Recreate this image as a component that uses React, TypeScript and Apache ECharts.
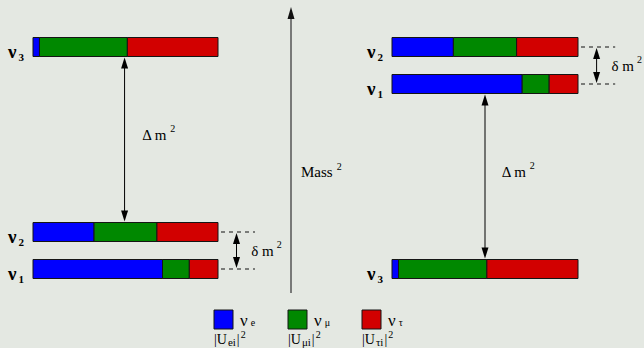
import React, { useEffect, useRef } from 'react';
import * as echarts from 'echarts';

// Flavour content of each mass eigenstate
const flavorNames = ['e', 'μ', 'τ'];
const mixingNames = ['ei', 'μi', 'τi'];
const flavorColors = ['#0000ff', '#008800', '#d20000'];

const stateNames = ['1', '2', '3'];
// |U_ei|², |U_μi|², |U_τi|² for ν1, ν2, ν3
const shareE = [0.7, 0.33, 0.035];
const shareMu = [0.145, 0.34, 0.475];
const shareTau = [0.155, 0.33, 0.49];

// mass² of ν1, ν2, ν3 (arbitrary units)
const normalMass = [0, 1, 6];
const invertedMass = [5, 6, 0];

const FAMILY = 'Liberation Serif';
const BAR_H = 19;
const INK = '#000';

type Part = { text: string; size: number; dy?: number; bold?: boolean; gap?: number };

let ctx2d: CanvasRenderingContext2D | null = null;
function measure(text: string, size: number, bold?: boolean) {
  if (!ctx2d) ctx2d = document.createElement('canvas').getContext('2d');
  if (!ctx2d) return text.length * size * 0.5;
  ctx2d.font = `${bold ? 'bold ' : ''}${size}px "${FAMILY}"`;
  return ctx2d.measureText(text).width;
}

// lays out a small formula (main text with sub/superscripts) as plain text pieces
function formula(x: number, cy: number, parts: Part[], alignRight = false) {
  const widths = parts.map((p) => measure(p.text, p.size, p.bold));
  const total = widths.reduce((s, w, i) => s + w + (parts[i].gap || 0), 0);
  let cx = alignRight ? x - total : x;
  return parts.map((p, i) => {
    cx += p.gap || 0;
    const el = {
      type: 'text',
      x: cx,
      y: cy + (p.dy || 0) - p.size / 2,
      style: {
        text: p.text,
        fontFamily: FAMILY,
        fontSize: p.size,
        fontWeight: p.bold ? 'bold' : 'normal',
        fill: INK,
      },
    };
    cx += widths[i];
    return el;
  });
}

function buildSegments(masses: number[]) {
  const shares = [shareE, shareMu, shareTau];
  const rows: number[][] = [];
  stateNames.forEach((_, s) => {
    let start = 0;
    shares.forEach((arr, fl) => {
      rows.push([start, start + arr[s], masses[s], fl, s]);
      start += arr[s];
    });
  });
  return rows;
}

function renderBar(_params: any, api: any) {
  const x0 = api.value(0);
  const x1 = api.value(1);
  const m = api.value(2);
  const fl = api.value(3);
  const s = api.value(4);
  const a = api.coord([x0, m]);
  const b = api.coord([x1, m]);
  const children: any[] = [
    {
      type: 'rect',
      shape: { x: a[0], y: a[1] - BAR_H / 2, width: b[0] - a[0], height: BAR_H },
      style: { fill: flavorColors[fl], stroke: '#151515', lineWidth: 1 },
    },
  ];
  if (fl === 0) {
    children.push(
      ...formula(
        a[0] - 9,
        a[1] + 4,
        [
          { text: 'ν', size: 19, bold: true },
          { text: stateNames[s], size: 11, bold: true, dy: 6, gap: 2 },
        ],
        true
      )
    );
  }
  return { type: 'group', children };
}

function arrowHead(x: number, y: number, dir: number, color: string) {
  // dir = -1 points up, +1 points down
  const len = 11;
  const hw = 3.5;
  return {
    type: 'polygon',
    shape: { points: [[x, y], [x - hw, y - dir * len], [x + hw, y - dir * len]] },
    style: { fill: color },
  };
}

function massLabel(symbol: string) {
  return [
    { text: `${symbol} m`, size: 15 },
    { text: '2', size: 10, dy: -6, gap: 3 },
  ];
}

function makeAnnotations(masses: number[], bigPair: [number, number], bigX: number) {
  return function (_params: any, api: any) {
    const children: any[] = [];
    // Δm² between the separated level and the close pair
    const top = api.coord([bigX, bigPair[0]]);
    const bot = api.coord([bigX, bigPair[1]]);
    const y1 = top[1] + BAR_H / 2 + 1;
    const y2 = bot[1] - BAR_H / 2 - 1;
    children.push({
      type: 'line',
      shape: { x1: top[0], y1: y1 + 4, x2: top[0], y2: y2 - 4 },
      style: { stroke: INK, lineWidth: 1 },
    });
    children.push(arrowHead(top[0], y1, -1, INK));
    children.push(arrowHead(top[0], y2, 1, INK));
    const midBig = api.coord([0.59, (bigPair[0] + bigPair[1]) / 2]);
    children.push(...formula(midBig[0], midBig[1] - 5, massLabel('Δ')));

    // δm² between ν1 and ν2
    const pair = [masses[1], masses[0]];
    const d0 = api.coord([1.0, pair[0]]);
    const d1 = api.coord([1.2, pair[0]]);
    const e0 = api.coord([1.0, pair[1]]);
    const e1 = api.coord([1.2, pair[1]]);
    [[d0, d1], [e0, e1]].forEach(([p, q]) => {
      children.push({
        type: 'line',
        shape: { x1: p[0] + 3, y1: p[1], x2: q[0], y2: q[1] },
        style: { stroke: '#111', lineWidth: 1, lineDash: [4, 4] },
      });
    });
    const ax = api.coord([1.1, pair[0]])[0];
    children.push({
      type: 'line',
      shape: { x1: ax, y1: d0[1] + 6, x2: ax, y2: e0[1] - 6 },
      style: { stroke: INK, lineWidth: 1 },
    });
    children.push(arrowHead(ax, d0[1] + 1, -1, INK));
    children.push(arrowHead(ax, e0[1] - 1, 1, INK));
    const midSmall = api.coord([1.18, (pair[0] + pair[1]) / 2]);
    children.push(...formula(midSmall[0], midSmall[1], massLabel('δ')));
    return { type: 'group', children };
  };
}

function legendGraphics() {
  const items: any[] = [];
  flavorNames.forEach((name, i) => {
    const x = 214 + i * 74;
    items.push({
      type: 'rect',
      shape: { x, y: 310, width: 19, height: 19 },
      style: { fill: flavorColors[i], stroke: '#151515', lineWidth: 1 },
    });
    items.push(
      ...formula(x + 26, 320, [
        { text: 'ν', size: 17 },
        { text: name, size: 10, dy: 2, gap: 3 },
      ])
    );
    items.push(
      ...formula(x, 339, [
        { text: '|U', size: 14 },
        { text: mixingNames[i], size: 11, dy: 3, gap: 1 },
        { text: '|', size: 14, gap: 1 },
        { text: '2', size: 10, dy: -5, gap: 1 },
      ])
    );
  });
  return items;
}

export default function App() {
  const ref = useRef<HTMLDivElement>(null);

  useEffect(() => {
    if (!ref.current) return;
    // serif face for every label of the diagram
    const css = document.createElement('style');
    css.textContent = `#level-diagram text, #level-diagram tspan { font-family: "${FAMILY}", serif !important; }`;
    document.head.appendChild(css);

    const chart = echarts.init(ref.current, null, { renderer: 'svg' });
    const axisCommon = { show: false };
    chart.setOption({
      animation: false,
      backgroundColor: '#e4e8e2',
      grid: [
        { left: 33, width: 185, top: 47, height: 222 },
        { left: 392, width: 186, top: 47, height: 222 },
      ],
      xAxis: [
        { type: 'value', min: 0, max: 1, gridIndex: 0, ...axisCommon },
        { type: 'value', min: 0, max: 1, gridIndex: 1, ...axisCommon },
      ],
      yAxis: [
        { type: 'value', min: 0, max: 6, gridIndex: 0, ...axisCommon },
        { type: 'value', min: 0, max: 6, gridIndex: 1, ...axisCommon },
      ],
      series: [
        {
          type: 'custom',
          name: 'normal',
          xAxisIndex: 0,
          yAxisIndex: 0,
          renderItem: renderBar,
          data: buildSegments(normalMass),
          clip: false,
          silent: true,
        },
        {
          type: 'custom',
          name: 'inverted',
          xAxisIndex: 1,
          yAxisIndex: 1,
          renderItem: renderBar,
          data: buildSegments(invertedMass),
          clip: false,
          silent: true,
        },
        {
          type: 'custom',
          name: 'normal-gaps',
          xAxisIndex: 0,
          yAxisIndex: 0,
          renderItem: makeAnnotations(normalMass, [normalMass[2], normalMass[1]], 0.495),
          data: [[0, 0]],
          clip: false,
          silent: true,
        },
        {
          type: 'custom',
          name: 'inverted-gaps',
          xAxisIndex: 1,
          yAxisIndex: 1,
          renderItem: makeAnnotations(invertedMass, [invertedMass[0], invertedMass[2]], 0.5),
          data: [[0, 0]],
          clip: false,
          silent: true,
        },
      ],
      graphic: [
        {
          type: 'line',
          shape: { x1: 291, y1: 293, x2: 291, y2: 16 },
          style: { stroke: '#555', lineWidth: 1.5 },
          silent: true,
        },
        {
          type: 'polygon',
          shape: { points: [[291, 7], [287.5, 19], [294.5, 19]] },
          style: { fill: '#111' },
          silent: true,
        },
        ...formula(301, 172, [
          { text: 'Mass', size: 15 },
          { text: '2', size: 10, dy: -6, gap: 4 },
        ]),
        ...legendGraphics(),
      ],
    });
    return () => {
      chart.dispose();
      css.remove();
    };
  }, []);

  return (
    <div
      id="level-diagram"
      ref={ref}
      style={{ position: 'fixed', left: 0, top: 0, width: 644, height: 348 }}
    />
  );
}
